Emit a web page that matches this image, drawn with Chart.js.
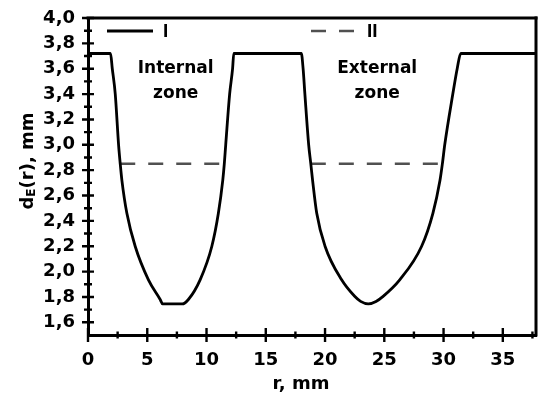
<!DOCTYPE html>
<html>
<head>
<meta charset="utf-8">
<script src="https://cdn.jsdelivr.net/npm/chart.js@4.4.0/dist/chart.umd.min.js"></script>
<style>
  html, body { margin: 0; padding: 0; background: #fff; }
  #wrap { width: 538px; height: 397px; }
</style>
</head>
<body>
<div id="wrap"><canvas id="de_chart"></canvas></div>
<script>
// curve I: d_E(r)
const curveR = [0, 1.9, 2.05, 2.3, 2.58, 2.72, 2.86, 3.28, 3.98, 5.1, 6.09, 6.3, 7.95, 8.47, 9.46, 10.45, 11.0, 11.37, 11.5, 11.62, 11.95, 12.2, 12.3,
                18.0, 18.15, 18.3, 18.62, 18.8, 18.95, 19.3, 20.0, 21.4, 22.5, 23.0, 23.65, 24.3, 24.9, 26.3, 28.15, 29.1, 29.7, 29.9, 30.1, 30.78, 31.15, 31.45, 37.8];
const curveD = [3.72, 3.72, 3.6, 3.4, 3.0, 2.85, 2.72, 2.46, 2.2, 1.935, 1.78, 1.745, 1.745, 1.78, 1.935, 2.2, 2.46, 2.72, 2.85, 3.0, 3.4, 3.6, 3.72,
                3.72, 3.6, 3.4, 3.0, 2.85, 2.72, 2.46, 2.2, 1.935, 1.805, 1.765, 1.745, 1.765, 1.805, 1.935, 2.2, 2.46, 2.72, 2.85, 3.0, 3.4, 3.6, 3.72, 3.72];
// line II: two segments (null breaks the line)
const levelR = [2.72, 11.5, 15, 18.8, 29.9];
const levelD = [2.85, 2.85, null, 2.85, 2.85];

const xTicks = [0, 5, 10, 15, 20, 25, 30, 35];
const xMinor = [2.5, 7.5, 12.5, 17.5, 22.5, 27.5, 32.5, 37.5];
const yTicks = [1.6, 1.8, 2.0, 2.2, 2.4, 2.6, 2.8, 3.0, 3.2, 3.4, 3.6, 3.8, 4.0];
const yMinor = [1.7, 1.9, 2.1, 2.3, 2.5, 2.7, 2.9, 3.1, 3.3, 3.5, 3.7, 3.9];

const seriesNames = ['I', 'II'];
const zoneLabels = [['Internal', 'zone'], ['External', 'zone']];
const zoneCenters = [7.4, 24.4];

const FONT = '"DejaVu Sans", sans-serif';
const LFONT = '"Liberation Sans", Arial, sans-serif';

const toPts = (xs, ys) => xs.map((x, i) => ({x: x, y: ys[i]}));

const decorPlugin = {
    id: 'decor',
    afterDatasetsDraw(chart) {
        const ctx = chart.ctx;
        const a = chart.chartArea;
        const xs = chart.scales.x, ys = chart.scales.y;
        ctx.save();
        ctx.setLineDash([]);
        ctx.globalAlpha = 1;
        ctx.fillStyle = '#000';
        // frame top + right
        ctx.fillRect(a.left - 1.5, a.top - 1.5, a.right - a.left + 3, 3);
        ctx.fillRect(a.right - 1.5, a.top - 1.5, 3, a.bottom - a.top + 3);

        // ticks crossing the axes
        ctx.strokeStyle = '#000';
        ctx.lineWidth = 2.4;
        ctx.beginPath();
        yTicks.forEach(v => { const p = ys.getPixelForValue(v); ctx.moveTo(a.left - 6, p); ctx.lineTo(a.left + 6, p); });
        yMinor.forEach(v => { const p = ys.getPixelForValue(v); ctx.moveTo(a.left - 4, p); ctx.lineTo(a.left + 4, p); });
        xTicks.forEach(v => { const p = xs.getPixelForValue(v); ctx.moveTo(p, a.bottom - 7); ctx.lineTo(p, a.bottom + 7); });
        xMinor.forEach(v => { const p = xs.getPixelForValue(v); ctx.moveTo(p, a.bottom - 3.5); ctx.lineTo(p, a.bottom + 3.5); });
        ctx.stroke();

        // legend
        const ly = 31;
        chart.data.datasets.forEach((ds, i) => {
            const x0 = i === 0 ? 107 : 311;
            ctx.strokeStyle = ds.borderColor;
            ctx.lineWidth = ds.borderWidth;
            ctx.setLineDash(ds.borderDash || []);
            ctx.beginPath(); ctx.moveTo(x0, ly); ctx.lineTo(x0 + 46, ly); ctx.stroke();
            ctx.setLineDash([]);
            ctx.fillStyle = '#000';
            ctx.font = 'bold 19px ' + LFONT;
            ctx.textAlign = 'left'; ctx.textBaseline = 'middle';
            ctx.fillText(ds.label, x0 + 56, ly + 1);
        });

        // zone labels
        ctx.fillStyle = '#000';
        ctx.font = 'bold 17px ' + FONT;
        ctx.textAlign = 'center'; ctx.textBaseline = 'middle';
        zoneLabels.forEach((lines, i) => {
            const cx = xs.getPixelForValue(zoneCenters[i]);
            lines.forEach((t, j) => ctx.fillText(t, cx, 69 + j * 25));
        });

        // axis titles
        ctx.font = 'bold 18px ' + FONT;
        ctx.fillText('r, mm', 301, 384);

        ctx.translate(27, 161);
        ctx.rotate(-Math.PI / 2);
        const parts = [['d', 18, 0], ['E', 12, 4], ['(r), mm', 18, 0]];
        let total = 0;
        parts.forEach(p => { ctx.font = 'bold ' + p[1] + 'px ' + FONT; total += ctx.measureText(p[0]).width; });
        let px = -total / 2;
        ctx.textAlign = 'left';
        parts.forEach(p => {
            ctx.font = 'bold ' + p[1] + 'px ' + FONT;
            ctx.fillText(p[0], px, p[2] + 1);
            px += ctx.measureText(p[0]).width;
        });
        ctx.restore();
    }
};

const deChart = new Chart(document.getElementById('de_chart').getContext('2d'), {
    type: 'scatter',
    data: {
        datasets: [
            {
                label: seriesNames[0],
                data: toPts(curveR, curveD),
                showLine: true,
                borderColor: '#000',
                borderWidth: 2.8,
                pointRadius: 0,
                cubicInterpolationMode: 'monotone'
            },
            {
                label: seriesNames[1],
                data: toPts(levelR, levelD),
                showLine: true,
                spanGaps: false,
                borderColor: '#505050',
                borderWidth: 2.6,
                borderDash: [15, 13],
                pointRadius: 0,
                tension: 0
            }
        ]
    },
    options: {
        responsive: true,
        maintainAspectRatio: false,
        animation: false,
        layout: { padding: { top: 18, right: 2, left: 0, bottom: 0 } },
        plugins: {
            legend: { display: false },
            tooltip: { enabled: false }
        },
        scales: {
            x: {
                type: 'linear',
                min: 0,
                max: 37.8,
                afterBuildTicks: s => { s.ticks = xTicks.map(v => ({value: v})); },
                afterFit: s => { s.height = 62; s.paddingLeft = 0; s.paddingRight = 0; },
                grid: { drawOnChartArea: false, drawTicks: false },
                border: { display: true, color: '#000', width: 3 },
                ticks: {
                    color: '#000',
                    padding: 15,
                    maxRotation: 0,
                    font: { family: FONT, size: 18, weight: 'bold' }
                }
            },
            y: {
                min: 1.5,
                max: 4.0,
                afterBuildTicks: s => { s.ticks = yTicks.map(v => ({value: v})); },
                afterFit: s => { s.width = 88; s.paddingTop = 0; s.paddingBottom = 0; },
                grid: { drawOnChartArea: false, drawTicks: false },
                border: { display: true, color: '#000', width: 3 },
                ticks: {
                    color: '#000',
                    padding: 13,
                    font: { family: FONT, size: 18, weight: 'bold' },
                    callback: v => v.toFixed(1).replace('.', ',')
                }
            }
        }
    },
    plugins: [decorPlugin]
});
</script>
</body>
</html>
